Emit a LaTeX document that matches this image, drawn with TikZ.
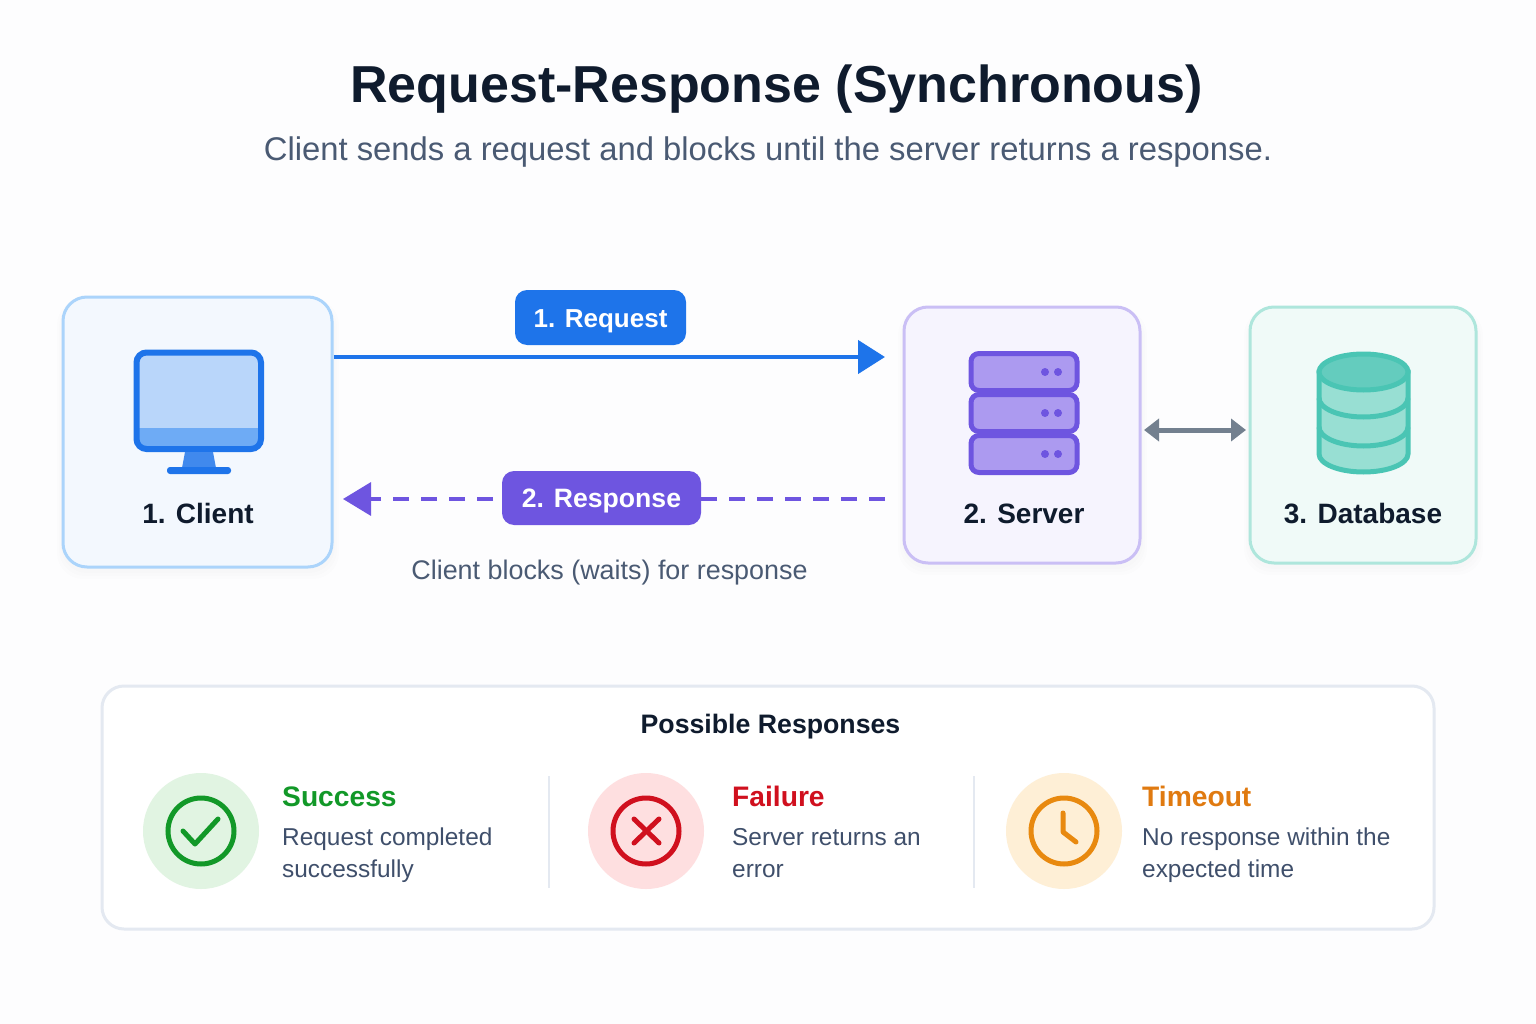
\documentclass[tikz,border=0pt]{standalone}
\usepackage{fontspec}
\setmainfont{Liberation Sans}
\usetikzlibrary{arrows.meta}
\definecolor{inkdark}{HTML}{0F1B2D}
\definecolor{inkgray}{HTML}{4A5A73}
\definecolor{inkslate}{HTML}{3F4F6B}
\definecolor{pageback}{HTML}{FDFDFE}
\definecolor{clientblue}{HTML}{1E74EA}
\definecolor{clientback}{HTML}{F3F8FE}
\definecolor{clientline}{HTML}{ABD4FB}
\definecolor{screenblue}{HTML}{B9D6FA}
\definecolor{bandblue}{HTML}{6EABF5}
\definecolor{serverpurple}{HTML}{6E55E0}
\definecolor{serverback}{HTML}{F6F4FE}
\definecolor{serverline}{HTML}{CABFF5}
\definecolor{rackpurple}{HTML}{AC9AF0}
\definecolor{dbgreen}{HTML}{4AC5B4}
\definecolor{dbback}{HTML}{F0FAF8}
\definecolor{dbline}{HTML}{AEE6DC}
\definecolor{dbtop}{HTML}{64CCBE}
\definecolor{dbbody}{HTML}{98DFD3}
\definecolor{linkgray}{HTML}{73808F}
\definecolor{panelline}{HTML}{E4E9F1}
\definecolor{okgreen}{HTML}{129828}
\definecolor{okback}{HTML}{E1F4E2}
\definecolor{failred}{HTML}{D0101E}
\definecolor{failback}{HTML}{FEDFE0}
\definecolor{waitorange}{HTML}{E8890F}
\definecolor{waithead}{HTML}{E07A10}
\definecolor{waitback}{HTML}{FEEFD6}
\begin{document}
\begin{tikzpicture}[x=1pt,y=-1pt,
		box/.style={draw,line width=3pt,rounded corners=24pt,inner sep=0pt,outer sep=0pt},
		tag/.style={rounded corners=12pt,inner sep=0pt,outer sep=0pt,text=white,text height=19pt,text depth=0pt,font=\bfseries\fontsize{26}{26}\selectfont},
		boxlabel/.style={text=inkdark,text height=20pt,text depth=0pt,font=\bfseries\fontsize{28}{28}\selectfont},
		itemhead/.style={anchor=base west,inner sep=0pt,font=\bfseries\fontsize{28.2}{29}\selectfont},
		itemtext/.style={anchor=west,inner sep=0pt,align=left,text=inkslate,font=\fontsize{24.4}{32}\selectfont},
		badge/.style={circle,minimum size=116pt,inner sep=0pt,outer sep=0pt},
		ring/.style={circle,draw,line width=5pt,minimum size=66pt,inner sep=0pt,outer sep=0pt},
		softshadow/.style={fill=black,opacity=0.007,rounded corners=26pt}]
	\useasboundingbox (0,0) rectangle (1536,1024);
	\fill[pageback] (0,0) rectangle (1536,1024);

	\node (title) at (776.5,89) [text=inkdark,font=\bfseries\fontsize{52}{52}\selectfont] {Request-Response (Synchronous)};
	\node (subtitle) at (768,152) [text=inkgray,font=\fontsize{32.8}{33}\selectfont] {Client sends a request and blocks until the server returns a response.};

	\fill[softshadow] (61,303) rectangle (335,573);
	\fill[softshadow] (59,301) rectangle (337,576);
	\fill[softshadow] (57,299) rectangle (339,579);
	\fill[softshadow] (902,313) rectangle (1143,569);
	\fill[softshadow] (900,311) rectangle (1145,572);
	\fill[softshadow] (898,309) rectangle (1147,575);
	\fill[softshadow] (1248,313) rectangle (1479,569);
	\fill[softshadow] (1246,311) rectangle (1481,572);
	\fill[softshadow] (1244,309) rectangle (1483,575);

	\node (client) at (197.5,432) [box,draw=clientline,fill=clientback,minimum width=269pt,minimum height=270pt] {};
	\node (server) at (1022,435) [box,draw=serverline,fill=serverback,minimum width=236pt,minimum height=256pt] {};
	\node (database) at (1363,435) [box,draw=dbline,fill=dbback,minimum width=226pt,minimum height=256pt] {};

	\fill[screenblue,rounded corners=10pt] (136.5,352.5) rectangle (261,449);
	\fill[bandblue] (136.5,428) -- (261,428) [rounded corners=10pt] -- (261,449) -- (136.5,449) [sharp corners] -- cycle;
	\draw[line width=6pt,draw=clientblue,rounded corners=10pt] (136.5,352.5) rectangle (261,449);
	\fill[clientblue!85!white] (185,452) -- (213,452) -- (216,468) -- (182,468) -- cycle;
	\fill[clientblue,rounded corners=3pt] (167,467) rectangle (231,474);
	\node (clientlabel) at (198,513) [boxlabel] {1. Client};

	\draw[line width=5pt,draw=serverpurple,fill=rackpurple,rounded corners=8pt] (971,353.5) rectangle (1077,390.5);
	\draw[line width=5pt,draw=serverpurple,fill=rackpurple,rounded corners=8pt] (971,394.5) rectangle (1077,431.5);
	\draw[line width=5pt,draw=serverpurple,fill=rackpurple,rounded corners=8pt] (971,435.5) rectangle (1077,472.5);
	\fill[serverpurple] (1045,372) circle (4pt);
	\fill[serverpurple] (1058,372) circle (4pt);
	\fill[serverpurple] (1045,413) circle (4pt);
	\fill[serverpurple] (1058,413) circle (4pt);
	\fill[serverpurple] (1045,454) circle (4pt);
	\fill[serverpurple] (1058,454) circle (4pt);
	\node (serverlabel) at (1024,513) [boxlabel] {2. Server};

	\draw[line width=5pt,draw=dbgreen,fill=dbbody] (1319,372) -- (1319,454) arc (180:360:44.5pt and 18pt) -- (1408,372) -- cycle;
	\draw[line width=5pt,draw=dbgreen] (1319,398) arc (180:360:44.5pt and 19pt);
	\draw[line width=5pt,draw=dbgreen] (1319,427) arc (180:360:44.5pt and 19pt);
	\draw[line width=5pt,draw=dbgreen,fill=dbtop] (1363.5,372) ellipse (44.5pt and 18pt);
	\node (databaselabel) at (1363,513) [boxlabel] {3. Database};

	\coordinate (requestlevel) at (0,357);
	\coordinate (responselevel) at (0,499);
	\draw[line width=4.5pt,draw=clientblue,-{Triangle[length=27pt,width=33pt]},shorten <=1.5pt,shorten >=19pt] (client.east |- requestlevel) -- (server.west |- requestlevel);
	\draw[line width=3.5pt,draw=serverpurple,dash pattern=on 16pt off 12pt,-{Triangle[length=28pt,width=33pt]},shorten <=19pt,shorten >=11pt] (server.west |- responselevel) -- (client.east |- responselevel);
	\draw[line width=5pt,draw=linkgray,{Triangle[length=15pt,width=22pt]}-{Triangle[length=15pt,width=22pt]},shorten <=4pt,shorten >=4pt] (server.east |- 0,430) -- (database.west |- 0,430);

	\node (requesttag) at (600.5,317.5) [tag,fill=clientblue,minimum width=171pt,minimum height=55pt] {1. Request};
	\node (responsetag) at (601.5,498) [tag,fill=serverpurple,minimum width=199pt,minimum height=54pt,font=\bfseries\fontsize{26.6}{26}\selectfont] {2. Response};
	\node (waitnote) at (609.5,572.5) [text=inkgray,font=\fontsize{26.9}{27}\selectfont] {Client blocks (waits) for response};

	\node (panel) at (768,807.5) [box,draw=panelline,fill=white,rounded corners=22pt,minimum width=1332pt,minimum height=243pt] {};
	\node (paneltitle) at (770.5,727) [text=inkdark,font=\bfseries\fontsize{26.7}{27}\selectfont] {Possible Responses};
	\coordinate (divonetop) at (549,776);
	\coordinate (divonebottom) at (549,888);
	\coordinate (divtwotop) at (974,776);
	\coordinate (divtwobottom) at (974,888);
	\draw[line width=2pt,draw=panelline] (divonetop) -- (divonebottom);
	\draw[line width=2pt,draw=panelline] (divtwotop) -- (divtwobottom);

	\node (okbadge) at (201,831) [badge,fill=okback] {};
	\node (okring) at (201,831) [ring,draw=okgreen] {};
	\draw[line width=5pt,draw=okgreen,line cap=round,line join=round] (183,831) -- (195,844) -- (218,819);
	\node (okhead) at (282,806.5) [itemhead,text=okgreen] {Success};
	\node (oktext) at (282,855) [itemtext] {\strut Request completed\\\strut successfully};

	\node (failbadge) at (646,831) [badge,fill=failback] {};
	\node (failring) at (646,831) [ring,draw=failred] {};
	\draw[line width=5pt,draw=failred,line cap=round] (634,819) -- (659,843);
	\draw[line width=5pt,draw=failred,line cap=round] (659,819) -- (634,843);
	\node (failhead) at (732,806.5) [itemhead,text=failred] {Failure};
	\node (failtext) at (732,855) [itemtext] {\strut Server returns an\\\strut error};

	\node (waitbadge) at (1064,831) [badge,fill=waitback] {};
	\node (waitring) at (1064,831) [ring,draw=waitorange] {};
	\draw[line width=5pt,draw=waitorange,line cap=round,line join=round] (1063,813) -- (1063,832) -- (1076,842);
	\node (waithead) at (1142,806.5) [itemhead,text=waithead] {Timeout};
	\node (waittext) at (1142,855) [itemtext] {\strut No response within the\\\strut expected time};
\end{tikzpicture}
\end{document}
